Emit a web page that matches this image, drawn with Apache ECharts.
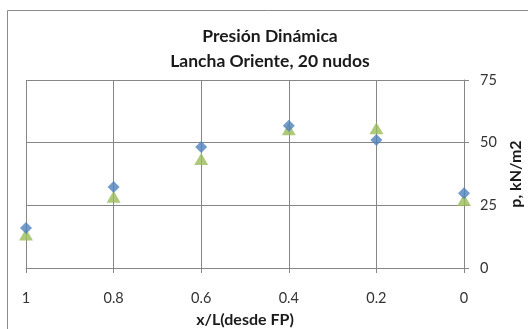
<!DOCTYPE html>
<html>
<head>
<meta charset="utf-8">
<script src="https://cdn.jsdelivr.net/npm/echarts@6/dist/echarts.min.js"></script>
<style>
html,body{margin:0;padding:0;background:#fff;}
#c{width:528px;height:329px;}
</style>
</head>
<body>
<div id="c"></div>
<script>
var titleLines = ['Presión Dinámica', 'Lancha Oriente, 20 nudos'];
var xName = 'x/L(desde FP)';
var yName = 'p, kN/m2';
var xPos = [1, 0.8, 0.6, 0.4, 0.2, 0];
var seriesBlue = [16.0, 32.3, 48.3, 56.7, 51.1, 29.8];
var seriesGreen = [13.4, 28.4, 43.5, 55.4, 55.8, 27.1];
var yMin = 0, yMax = 75, yStep = 25;
var xMin = 0, xMax = 1, xStep = 0.2;

function pairs(xs, ys){ return xs.map(function(x,i){ return [x, ys[i]]; }); }

var FONT = 'Lato';
var gridColor = '#868686';
var chart = echarts.init(document.getElementById('c'), null, {renderer:'canvas'});
chart.setOption({
  animation: false,
  backgroundColor: '#fff',
  textStyle: {fontFamily: FONT},
  graphic: [{
    type: 'rect', silent: true, z: -10,
    shape: {x: 7.5, y: 10.5, width: 600, height: 400},
    style: {fill: 'none', stroke: '#8c8c8c', lineWidth: 1}
  }],
  title: {
    text: titleLines.join('\n'),
    left: 270, top: 24, textAlign: 'center', padding: 0,
    textStyle: {fontFamily: FONT, fontSize: 17.5, fontWeight: 'bold', color: '#1a1a1a', lineHeight: 25}
  },
  grid: {left: 26, right: 64, top: 80, bottom: 61, containLabel: false, outerBoundsMode: 'none'},
  xAxis: {
    type: 'value', min: xMin, max: xMax, interval: xStep, inverse: true,
    name: xName, nameLocation: 'middle', nameGap: 44,
    nameTextStyle: {fontFamily: FONT, fontSize: 16, fontWeight: 'bold', color: '#1a1a1a'},
    axisLine: {show: true, lineStyle: {color: gridColor, width: 1}},
    axisTick: {show: true, inside: false, length: 5, lineStyle: {color: gridColor}},
    axisLabel: {margin: 23, fontFamily: FONT, fontSize: 14.5, color: '#333'},
    splitLine: {show: true, lineStyle: {color: gridColor, width: 1}}
  },
  yAxis: {
    type: 'value', min: yMin, max: yMax, interval: yStep, position: 'right',
    name: yName, nameLocation: 'middle', nameGap: 42, nameRotate: 90,
    nameTextStyle: {fontFamily: FONT, fontSize: 16, fontWeight: 'bold', color: '#1a1a1a'},
    axisLine: {show: true, lineStyle: {color: gridColor, width: 1}},
    axisTick: {show: true, inside: false, length: 5, lineStyle: {color: gridColor}},
    axisLabel: {margin: 16, fontFamily: FONT, fontSize: 14.5, color: '#333'},
    splitLine: {show: true, lineStyle: {color: gridColor, width: 1}}
  },
  series: [
    {
      type: 'scatter', name: 'green', data: pairs(xPos, seriesGreen),
      symbol: 'triangle', symbolSize: [14, 12],
      itemStyle: {color: '#9BBB59'}, z: 2
    },
    {
      type: 'scatter', name: 'blue', data: pairs(xPos, seriesBlue),
      symbol: 'diamond', symbolSize: 12,
      itemStyle: {color: '#4F81BD'}, z: 3
    }
  ]
});
</script>
</body>
</html>
